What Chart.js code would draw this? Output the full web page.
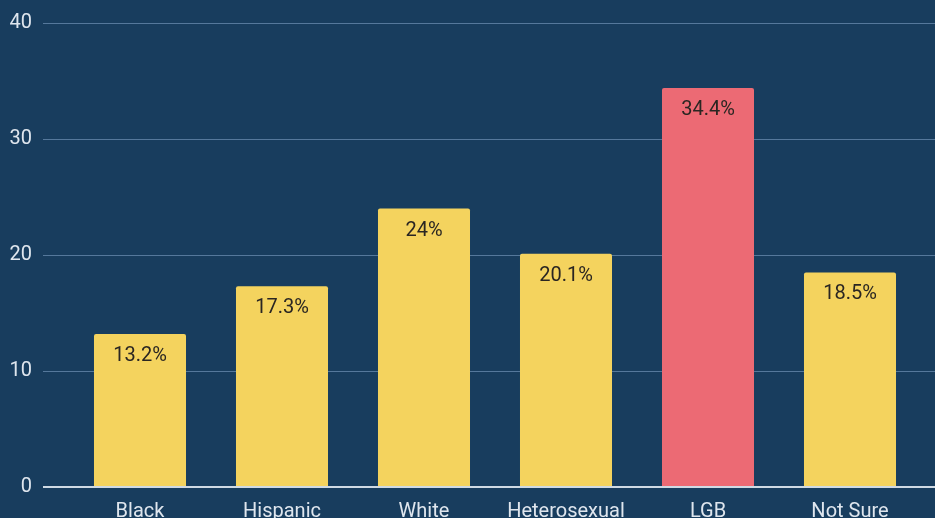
<!DOCTYPE html>
<html>
<head>
<meta charset="utf-8">
<script src="https://cdn.jsdelivr.net/npm/chart.js@4.4.1/dist/chart.umd.min.js"></script>
<style>
  html, body { margin: 0; padding: 0; background: #183d5e; overflow: hidden; }
  #wrap { width: 935px; height: 518px; }
</style>
</head>
<body>
<div id="wrap"><canvas id="rates"></canvas></div>
<script>
const groups = ["Black", "Hispanic", "White", "Heterosexual", "LGB", "Not Sure"];
const rates = [13.2, 17.3, 24, 20.1, 34.4, 18.5];
const highlight = ["LGB"];

const YELLOW = "#f4d35e";
const RED = "#ec6a74";
const GRID = "#55789b";
const BASE = "#cfdae4";

Chart.defaults.font.family = "Roboto";
Chart.defaults.font.size = 20;

// print the value inside the top of each bar
const barLabels = {
    id: "barLabels",
    afterDatasetsDraw(chart) {
        const ctx = chart.ctx;
        const meta = chart.getDatasetMeta(0);
        ctx.save();
        ctx.font = "20px Roboto";
        ctx.fillStyle = "#2a2622";
        ctx.textAlign = "center";
        ctx.textBaseline = "middle";
        meta.data.forEach((bar, i) => {
            ctx.fillText(rates[i] + "%", bar.x, bar.y + 22);
        });
        ctx.restore();
    },
};

// carry the horizontal grid lines out to the right edge
const gridToEdge = {
    id: "gridToEdge",
    beforeDatasetsDraw(chart) {
        const ctx = chart.ctx;
        const y = chart.scales.y;
        ctx.save();
        y.ticks.forEach((t) => {
            const zero = t.value === 0;
            const py = Math.round(y.getPixelForValue(t.value)) + (zero ? 0 : 0.5);
            ctx.strokeStyle = zero ? BASE : GRID;
            ctx.lineWidth = zero ? 2 : 1;
            ctx.beginPath();
            ctx.moveTo(chart.chartArea.right - 1, py);
            ctx.lineTo(chart.width, py);
            ctx.stroke();
        });
        ctx.restore();
    },
};

new Chart(document.getElementById("rates"), {
    type: "bar",
    data: {
        labels: groups,
        datasets: [{
            data: rates,
            backgroundColor: groups.map((g) => highlight.includes(g) ? RED : YELLOW),
            borderRadius: 2,
            borderSkipped: "bottom",
            categoryPercentage: 1,
            barPercentage: 0.648,
        }],
    },
    options: {
        responsive: true,
        maintainAspectRatio: false,
        animation: false,
        layout: { padding: { top: 21, right: 14, left: 0, bottom: 0 }, autoPadding: false },
        plugins: {
            legend: { display: false },
            tooltip: { enabled: false },
        },
        scales: {
            x: {
                grid: { display: false },
                border: { display: false },
                ticks: { color: "#dfe6ee", padding: 5, font: { size: 20 } },
                afterFit: (s) => { s.height = 31; },
            },
            y: {
                min: 0,
                max: 40,
                ticks: { stepSize: 10, color: "#dfe6ee", padding: 11, font: { size: 20 } },
                border: { display: false },
                grid: {
                    color: (c) => c.tick && c.tick.value === 0 ? BASE : GRID,
                    lineWidth: (c) => c.tick && c.tick.value === 0 ? 2 : 1,
                    drawTicks: true,
                    tickLength: 26,
                },
                afterFit: (s) => { s.width = 69; },
            },
        },
    },
    plugins: [gridToEdge, barLabels],
});
</script>
</body>
</html>
